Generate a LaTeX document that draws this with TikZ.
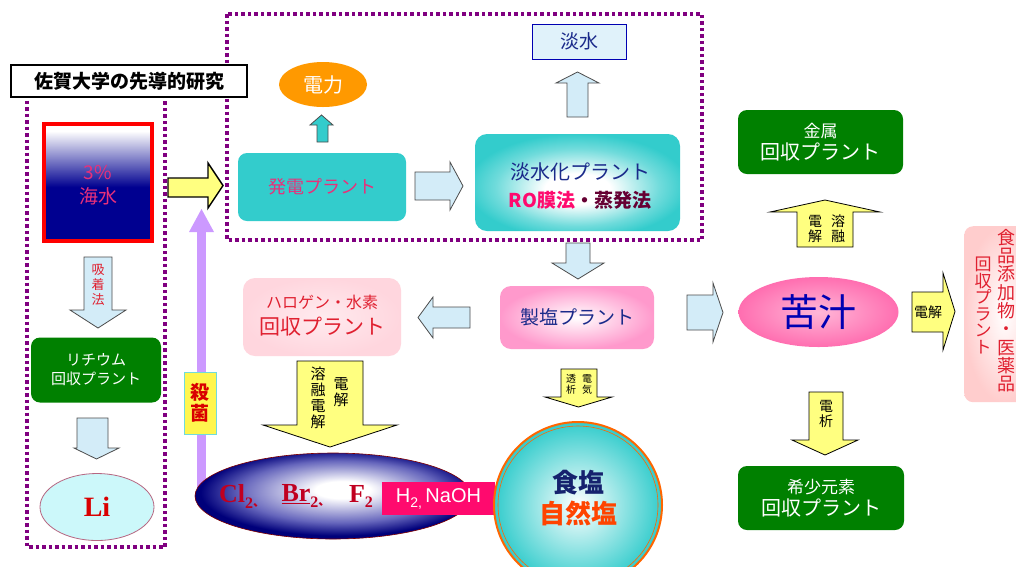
\documentclass[tikz,border=0pt]{standalone}
\usepackage{fontspec}
\setmainfont{Liberation Serif}
\newfontfamily\jp{Noto Sans CJK JP}
\newfontfamily\arialf{Liberation Sans}
\usetikzlibrary{shapes.geometric}
\definecolor{dpurple}{HTML}{800080}
\definecolor{lblue}{HTML}{D3ECF8}
\definecolor{yel}{HTML}{FFFF80}
\definecolor{gr}{HTML}{008000}
\definecolor{teal0}{HTML}{33CCCC}
\definecolor{navy0}{HTML}{000090}
\definecolor{pinkt}{HTML}{E8307A}
\definecolor{navyt}{HTML}{1A2A8A}
\definecolor{redt}{HTML}{E02030}
\definecolor{hot}{HTML}{FF0A6E}
\definecolor{maroon0}{HTML}{660033}
\definecolor{orange0}{HTML}{FF9900}
\definecolor{purbar}{HTML}{CC99FF}
\definecolor{halpink}{HTML}{FFD6DE}
\definecolor{sepink}{HTML}{FF99CC}
\definecolor{nigari}{HTML}{FF6EB0}
\definecolor{lcyan}{HTML}{CCF8FA}
\definecolor{ored}{HTML}{FF4400}
\definecolor{clred}{HTML}{C00020}
\pgfdeclareverticalshading{sea}{100bp}{color(0bp)=(navy0); color(48bp)=(navy0); color(72bp)=(white); color(100bp)=(white)}
\pgfdeclareradialshading{glow}{\pgfpoint{0bp}{-4bp}}{color(0bp)=(white); color(8bp)=(white); color(20bp)=(teal0!70!white); color(27bp)=(teal0); color(50bp)=(teal0)}
\pgfdeclareradialshading{halglow}{\pgfpoint{2bp}{4bp}}{color(0bp)=(white); color(5bp)=(white); color(18bp)=(navy0!60!white); color(25bp)=(navy0!85!black); color(50bp)=(navy0!85!black)}
\tikzset{
  barrow/.style={fill=lblue, draw=black!70, line width=0.8pt},
  yarrow/.style={fill=yel, draw=black, line width=0.8pt},
  gbox/.style={fill=gr, rounded corners=9pt, text=white, align=center},
  dotbox/.style={draw=dpurple, line width=3.5pt, dash pattern=on 3.5pt off 3pt},
  vtxt/.style={align=center, font=\jp\fontsize{#1}{#1}\selectfont},
}
\begin{document}
\begin{tikzpicture}[x=1pt,y=-1pt, every node/.style={font=\jp, inner sep=0pt}]
\clip (0,0) rectangle (1016,566);
\fill[white] (0,0) rectangle (1016,566);

% dotted frames
\draw[dotbox] (27,81) rectangle (165,547);
\draw[dotbox] (227,14) rectangle (702,240);

% title
\node[draw=black, line width=2pt, fill=white, minimum width=236, minimum height=32,
  font=\jp\bfseries\fontsize{19}{19}\selectfont] (title) at (129,81) {佐賀大学の先導的研究};

% seawater
\node[draw=red, line width=4pt, shading=sea, minimum width=108, minimum height=117] (sea) at (98,182.5) {};
\node[text=pinkt, align=center, font=\jp\fontsize{19}{24}\selectfont] (seat) at (98,185) {3\%\\海水};

% adsorption arrow
\draw[barrow] (84,257) -- (112,257) -- (112,310) -- (126,310) -- (98,328) -- (70,310) -- (84,310) -- cycle;
\node[vtxt=13, text=redt, font=\jp\fontsize{13}{15}\selectfont] (kyu) at (98,285) {吸\\着\\法};

% lithium plant
\node[gbox, minimum width=130, minimum height=65, font=\jp\fontsize{15}{19}\selectfont] (li) at (96,370) {リチウム\\回収プラント};
\draw[barrow] (77,418) -- (108,418) -- (108,448) -- (119,448) -- (96.5,459) -- (74,448) -- (77,448) -- cycle;
\node[ellipse, draw=black!30!purple!60, fill=lcyan, line width=0.8pt, minimum width=114, minimum height=67,
  text=red!85!black, font=\bfseries\fontsize{28}{28}\selectfont] (lim) at (97,507) {Li};

% yellow arrow into power plant
\draw[yarrow, line width=1.4pt] (168,178) -- (208,178) -- (208,163) -- (223,185.5) -- (208,208) -- (208,197) -- (168,197) -- cycle;

% purple sterilization bar
\fill[purbar] (197,232) rectangle (206,492);
\fill[purbar] (189,232) -- (201.5,209) -- (214,232) -- cycle;
\node[fill=yellow!70!white, draw=teal0!70, line width=1pt, minimum width=32, minimum height=62,
  align=center, text=red!85!black, font=\jp\bfseries\fontsize{19}{21}\selectfont] (ster) at (200,403) {殺\\菌};

% power
\node[ellipse, fill=orange0, minimum width=88, minimum height=45, text=white, font=\jp\fontsize{20}{20}\selectfont] (power) at (323,84.5) {電力};
\node[fill=teal0, rounded corners=9pt, minimum width=168, minimum height=68, text=pinkt,
  font=\jp\fontsize{18}{18}\selectfont] (gen) at (322,187) {発電プラント};
\draw[fill=teal0, draw=black!70, line width=0.8pt] (317,142) -- (317,125) -- (310,125) -- (321.5,115) -- (333,125) -- (328,125) -- (328,142) -- cycle;

% gen -> desal arrow
\draw[barrow] (415,172) -- (450,172) -- (450,162) -- (463,186) -- (450,210) -- (450,200) -- (415,200) -- cycle;

% desalination plant
\node[rounded corners=12pt, shading=glow, minimum width=205, minimum height=97] (desal) at (577.5,182.5) {};
\node[text=navyt, font=\jp\fontsize{20}{20}\selectfont] (desalt) at (580,172) {淡水化プラント};
\node[font=\jp\bfseries\fontsize{19}{19}\selectfont] (desalt2) at (580,200) {\textcolor{hot}{RO膜法}\textcolor{maroon0}{・蒸発法}};

% fresh water
\node[draw=blue!70!black, fill=lblue!70!white, line width=1pt, minimum width=94, minimum height=35, text=navyt,
  font=\jp\fontsize{19}{19}\selectfont] (fresh) at (579,41.5) {淡水};
\draw[barrow] (567,117) -- (567,83) -- (556,83) -- (577.5,72) -- (599,83) -- (588,83) -- (588,117) -- cycle;

% desal -> salt plant
\draw[barrow] (566,243) -- (590,243) -- (590,263) -- (604,263) -- (578,279) -- (552,263) -- (566,263) -- cycle;

% salt plant
\node[rounded corners=11pt, inner color=white, outer color=sepink, minimum width=154, minimum height=63, text=navyt,
  font=\jp\fontsize{19}{19}\selectfont] (saltp) at (577,317.5) {製塩プラント};

% salt -> halogen arrow
\draw[barrow] (470,307) -- (433,307) -- (433,297) -- (418,317.5) -- (433,338) -- (433,328) -- (470,328) -- cycle;

% halogen plant
\node[rounded corners=12pt, inner color=halpink!50!white, outer color=halpink, minimum width=158, minimum height=78] (halp) at (322,317) {};
\node[text=redt, font=\jp\fontsize{16}{16}\selectfont] (halt1) at (322,302) {ハロゲン・水素};
\node[text=redt, font=\jp\fontsize{21}{21}\selectfont] (halt2) at (322,327) {回収プラント};

% big yellow arrow
\draw[yarrow] (297,361) -- (363,361) -- (363,425) -- (397,425) -- (330,447) -- (263,425) -- (297,425) -- cycle;
\node[align=center, font=\jp\fontsize{15}{16}\selectfont] (melt) at (318,398) {溶\\融\\電\\解};
\node[align=center, font=\jp\fontsize{15}{16}\selectfont] (elec) at (341,392) {電\\解};

% halogen ellipse
\node[ellipse, draw=red!50!black, line width=0.6pt, shading=halglow,
  minimum width=276, minimum height=86] (halo) at (333,496) {};
\node[text=clred, font=\bfseries\fontsize{26}{26}\selectfont] (cl) at (242,496) {Cl\raisebox{-6pt}{\fontsize{16}{16}\selectfont 2}\raisebox{-4pt}{\jp\fontsize{12}{12}\selectfont 、}};
\node[text=clred, font=\bfseries\fontsize{26}{26}\selectfont] (br) at (306,496) {\underline{Br}\raisebox{-6pt}{\fontsize{16}{16}\selectfont 2}\raisebox{-4pt}{\jp\fontsize{12}{12}\selectfont 、}};
\node[text=clred, font=\bfseries\fontsize{26}{26}\selectfont] (f2) at (361,496) {F\raisebox{-5pt}{\fontsize{16}{16}\selectfont 2}};

% H2 NaOH
\node[fill=hot, minimum width=113, minimum height=33, text=white, font=\arialf\fontsize{20}{20}\selectfont] (h2) at (438.5,498.5) {H\raisebox{-5pt}{\fontsize{14}{14}\selectfont 2,}\,NaOH};

% salt circle
\node[ellipse, draw=orange!80!red, line width=2pt, inner color=white, outer color=teal0,
  minimum width=168, minimum height=166] (salt) at (578,505) {};
\draw[orange!80!red, line width=0.6pt] (salt.center) ellipse [x radius=80, y radius=79];
\node[text=navyt!80!black, font=\jp\bfseries\fontsize{26}{26}\selectfont] (salt1) at (578,483) {食塩};
\node[text=ored, font=\jp\bfseries\fontsize{26}{26}\selectfont] (salt2) at (578,513) {自然塩};

% electrodialysis arrow
\draw[yarrow] (561,369) -- (597,369) -- (597,397) -- (612,397) -- (578.5,407) -- (545,397) -- (561,397) -- cycle;
\node[align=center, font=\jp\fontsize{10}{11}\selectfont] (ed1) at (571,384) {透\\析};
\node[align=center, font=\jp\fontsize{10}{11}\selectfont] (ed2) at (587,384) {電\\気};

% metal plant
\node[gbox, minimum width=165, minimum height=64] (metal) at (820.5,142) {{\fontsize{17}{17}\selectfont 金属}\\[3pt]{\fontsize{20}{20}\selectfont 回収プラント}};
\draw[yarrow] (797,247) -- (797,212) -- (770,212) -- (825,200) -- (880,212) -- (853,212) -- (853,247) -- cycle;
\node[align=center, font=\jp\fontsize{14}{15}\selectfont] (mm1) at (815,229) {電\\解};
\node[align=center, font=\jp\fontsize{14}{15}\selectfont] (mm2) at (838,229) {溶\\融};

% salt plant -> bittern
\draw[barrow] (687,295) -- (713,295) -- (713,283) -- (723,312.5) -- (713,342) -- (713,330) -- (687,330) -- cycle;

% bittern
\node[ellipse, inner color=white!50!nigari, outer color=nigari, minimum width=160, minimum height=70, text=blue!70!black,
  font=\jp\fontsize{38}{38}\selectfont] (nig) at (818.5,312) {苦汁};

% electrolysis right arrow
\draw[yarrow] (912,292) -- (943,292) -- (943,273) -- (955,311.5) -- (943,350) -- (943,332) -- (912,332) -- cycle;
\node[font=\jp\fontsize{14}{14}\selectfont] (el2) at (928,312) {電解};

% food additive box
\node[rounded corners=9pt, inner color=white, outer color=pink!90!red!60, minimum width=80, minimum height=176, anchor=north west] (food) at (964,226) {};
\node[text=redt, align=center, font=\jp\fontsize{18}{18.3}\selectfont, anchor=north] (foodt1) at (1006,229) {食\\品\\添\\加\\物\\・\\医\\薬\\品};
\node[text=redt, align=center, font=\jp\fontsize{17}{16.5}\selectfont, anchor=north] (foodt2) at (983,257) {回\\収\\プ\\ラ\\ン\\ト};

% electrodeposition arrow
\draw[yarrow] (809,392) -- (843,392) -- (843,440) -- (858,440) -- (825,455) -- (792,440) -- (809,440) -- cycle;
\node[align=center, font=\jp\fontsize{14}{15}\selectfont] (ep) at (826,414) {電\\析};

% rare elements plant
\node[gbox, minimum width=166, minimum height=64] (rare) at (821,498) {{\fontsize{17}{17}\selectfont 希少元素}\\[3pt]{\fontsize{20}{20}\selectfont 回収プラント}};
\end{tikzpicture}
\end{document}
